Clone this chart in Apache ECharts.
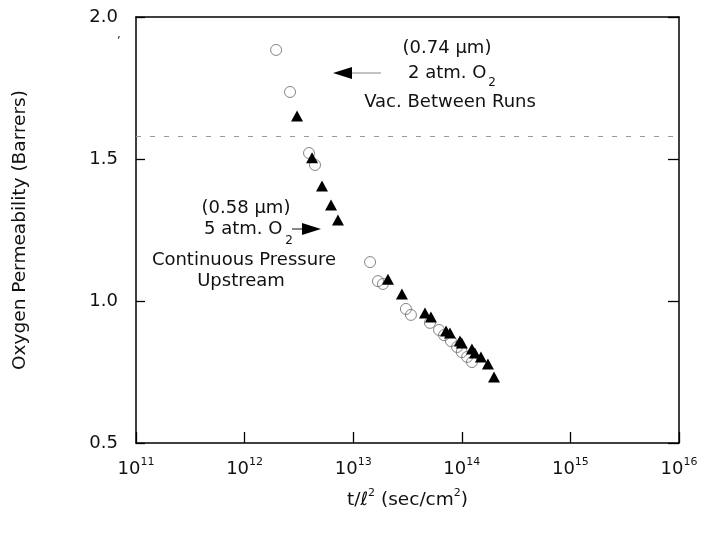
<!DOCTYPE html>
<html>
<head>
<meta charset="utf-8">
<script src="https://cdn.jsdelivr.net/npm/echarts@6/dist/echarts.min.js"></script>
<style>html,body{margin:0;padding:0;background:#fff;}#c{width:704px;height:535px;}</style>
</head>
<body>
<div id="c"></div>
<script>
// Open circles: 0.74 um film, 2 atm O2, vacuum between runs
const circleX = [1.95e12, 2.62e12, 3.92e12, 4.45e12, 1.43e13, 1.69e13, 1.88e13, 3.06e13, 3.40e13, 5.09e13, 6.17e13, 6.86e13, 7.94e13, 9.04e13, 1.00e14, 1.12e14, 1.24e14];
const circleY = [1.884, 1.736, 1.521, 1.479, 1.137, 1.070, 1.060, 0.972, 0.951, 0.923, 0.898, 0.880, 0.859, 0.838, 0.820, 0.803, 0.785];
// Filled triangles: 0.58 um film, 5 atm O2, continuous pressure upstream
const triX = [3.04e12, 4.18e12, 5.16e12, 6.25e12, 7.24e12, 2.09e13, 2.81e13, 4.58e13, 5.20e13, 7.16e13, 7.78e13, 9.61e13, 1.00e14, 1.24e14, 1.32e14, 1.50e14, 1.74e14, 1.98e14];
const triY = [1.651, 1.504, 1.405, 1.338, 1.285, 1.077, 1.025, 0.958, 0.944, 0.894, 0.887, 0.859, 0.852, 0.831, 0.817, 0.803, 0.778, 0.732];
const refLine = 1.58;
const yTicks = [0.5, 1.0, 1.5, 2.0];
const xExponents = [11, 12, 13, 14, 15, 16];

const FONT = 'DejaVu Sans';
const chart = echarts.init(document.getElementById('c'));
const zip = (a, b) => a.map((v, i) => [v, b[i]]);

chart.setOption({
  animation: false,
  backgroundColor: '#fff',
  grid: {left: 136, right: 25, top: 17, bottom: 92},
  xAxis: [{
    type: 'log', logBase: 10,
    min: Math.pow(10, xExponents[0]), max: Math.pow(10, xExponents[xExponents.length - 1]),
    interval: 1,
    position: 'bottom',
    axisLine: {show: true, lineStyle: {color: '#000', width: 1.5}},
    axisTick: {show: true, inside: true, length: 11, lineStyle: {color: '#000', width: 1.3}},
    splitLine: {show: false},
    minorTick: {show: false},
    axisLabel: {
      margin: 14,
      formatter: v => '{b|10}{s|' + Math.round(Math.log10(v)) + '}',
      rich: {
        b: {fontFamily: FONT, fontSize: 18, color: '#111', lineHeight: 24},
        s: {fontFamily: FONT, fontSize: 11, color: '#111', lineHeight: 12, verticalAlign: 'top'}
      }
    },
    name: '{a|t/ℓ}{s|2}{a| (sec/cm}{s|2}{a|)}',
    nameLocation: 'middle', nameGap: 45,
    nameTextStyle: {
      rich: {
        a: {fontFamily: FONT, fontSize: 18.5, color: '#111', lineHeight: 24},
        s: {fontFamily: FONT, fontSize: 11, color: '#111', lineHeight: 12, verticalAlign: 'top'}
      }
    }
  }, {
    type: 'log', logBase: 10,
    min: Math.pow(10, xExponents[0]), max: Math.pow(10, xExponents[xExponents.length - 1]),
    position: 'top',
    axisLine: {show: true, onZero: false, lineStyle: {color: '#000', width: 1.5}},
    axisTick: {show: false}, axisLabel: {show: false}, splitLine: {show: false}
  }],
  yAxis: [{
    type: 'value', min: yTicks[0], max: yTicks[yTicks.length - 1], interval: 0.5,
    position: 'left',
    axisLine: {show: true, onZero: false, lineStyle: {color: '#000', width: 1.5}},
    axisTick: {show: true, inside: true, length: 9, lineStyle: {color: '#000', width: 1.3}},
    splitLine: {show: false},
    axisLabel: {
      margin: 18, fontFamily: FONT, fontSize: 18, color: '#111',
      padding: [10, 0, 0, 0],
      formatter: v => v.toFixed(1)
    },
    name: 'Oxygen Permeability (Barrers)',
    nameLocation: 'middle', nameGap: 106, nameRotate: 90,
    nameTextStyle: {fontFamily: FONT, fontSize: 18.5, color: '#111'}
  }, {
    type: 'value', min: yTicks[0], max: yTicks[yTicks.length - 1], interval: 0.5,
    position: 'right',
    axisLine: {show: true, onZero: false, lineStyle: {color: '#000', width: 1.5}},
    axisTick: {show: true, inside: true, length: 11, lineStyle: {color: '#000', width: 1.3}},
    axisLabel: {show: false}, splitLine: {show: false}
  }],
  series: [{
    name: '0.74 um',
    type: 'scatter',
    data: zip(circleX, circleY),
    symbol: 'circle', symbolSize: 11,
    itemStyle: {color: 'rgba(255,255,255,0)', borderColor: '#777', borderWidth: 0.9, opacity: 1},
    markLine: {
      silent: true, symbol: ['none', 'none'],
      label: {show: false},
      lineStyle: {color: '#999', type: [5, 9], width: 1},
      data: [{yAxis: refLine}]
    },
    z: 2
  }, {
    name: '0.58 um',
    type: 'scatter',
    data: zip(triX, triY),
    symbol: 'triangle', symbolSize: [12, 11],
    itemStyle: {color: '#000', opacity: 1},
    z: 3
  }],
  graphic: [
    {type: 'text', style: {text: ',', x: 119, y: 35, font: '12px ' + FONT, fill: '#333', textAlign: 'center', textVerticalAlign: 'middle'}},
    // annotation 1
    {type: 'text', style: {text: '(0.74 µm)', x: 447, y: 48, font: '18px ' + FONT, fill: '#111', textAlign: 'center', textVerticalAlign: 'middle'}},
    {type: 'text', style: {text: '2 atm. O', x: 408, y: 73, font: '18px ' + FONT, fill: '#111', textAlign: 'left', textVerticalAlign: 'middle'}},
    {type: 'text', style: {text: '2', x: 492, y: 83, font: '12px ' + FONT, fill: '#111', textAlign: 'center', textVerticalAlign: 'middle'}},
    {type: 'text', style: {text: 'Vac. Between Runs', x: 450, y: 102, font: '18px ' + FONT, fill: '#111', textAlign: 'center', textVerticalAlign: 'middle'}},
    {type: 'line', shape: {x1: 351, y1: 73, x2: 381, y2: 73}, style: {stroke: '#888', lineWidth: 1}},
    {type: 'polygon', shape: {points: [[333, 73], [352, 67], [352, 79]]}, style: {fill: '#000'}},
    // annotation 2
    {type: 'text', style: {text: '(0.58 µm)', x: 246, y: 208, font: '18px ' + FONT, fill: '#111', textAlign: 'center', textVerticalAlign: 'middle'}},
    {type: 'text', style: {text: '5 atm. O', x: 204, y: 229, font: '18px ' + FONT, fill: '#111', textAlign: 'left', textVerticalAlign: 'middle'}},
    {type: 'text', style: {text: '2', x: 289, y: 241, font: '12px ' + FONT, fill: '#111', textAlign: 'center', textVerticalAlign: 'middle'}},
    {type: 'line', shape: {x1: 292, y1: 229, x2: 304, y2: 229}, style: {stroke: '#111', lineWidth: 1}},
    {type: 'polygon', shape: {points: [[321, 229], [302, 223], [302, 235]]}, style: {fill: '#000'}},
    {type: 'text', style: {text: 'Continuous Pressure', x: 244, y: 260, font: '18px ' + FONT, fill: '#111', textAlign: 'center', textVerticalAlign: 'middle'}},
    {type: 'text', style: {text: 'Upstream', x: 241, y: 281, font: '18px ' + FONT, fill: '#111', textAlign: 'center', textVerticalAlign: 'middle'}}
  ]
});
</script>
</body>
</html>
